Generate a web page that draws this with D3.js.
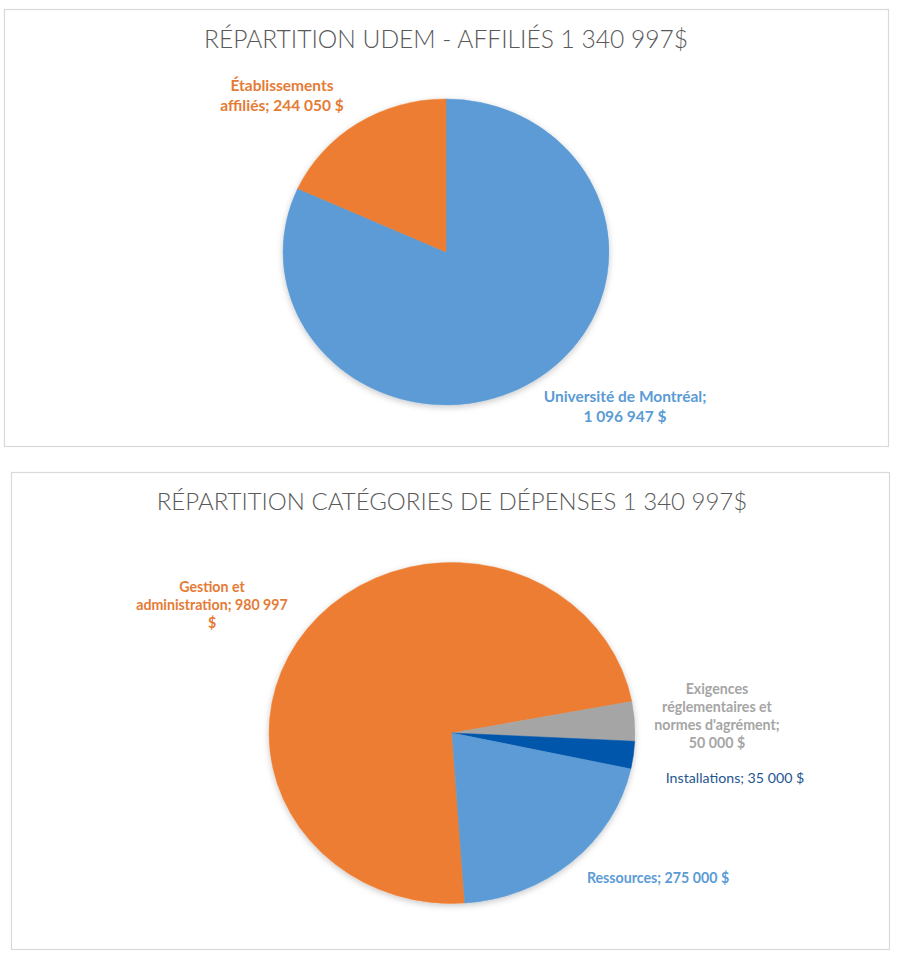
<!DOCTYPE html>
<html>
<head>
<meta charset="utf-8">
<script src="https://cdn.jsdelivr.net/npm/d3@7"></script>
<style>
	body { margin: 0; background: #fff; }
</style>
</head>
<body>
<script>
// * DATA
const udemCategories = ["Université de Montréal", "Établissements affiliés"];
const udemValues = [1096947, 244050];
const udemColors = ["#5B9BD5", "#ED7D31"];
const udemLabels = [
	["Université de Montréal;", "1 096 947 $"],
	["Établissements", "affiliés; 244 050 $"],
];

const depCategories = [
	"Gestion et administration",
	"Exigences réglementaires et normes d'agrément",
	"Installations",
	"Ressources",
];
const depValues = [980997, 50000, 35000, 275000];
const depColors = ["#ED7D31", "#A5A5A5", "#0457AB", "#5B9BD5"];
const depLabelColors = ["#E57B35", "#A5A5A5", "#1F5690", "#5B9BD5"];
const depLabels = [
	["Gestion et", "administration; 980 997", "$"],
	["Exigences", "réglementaires et", "normes d'agrément;", "50 000 $"],
	["Installations; 35 000 $"],
	["Ressources; 275 000 $"],
];

// * Size
const width = 901;
const height = 960;

const svg = d3
	.select("body")
	.append("svg")
	.attr("width", width)
	.attr("height", height);

// soft shadow under the pies
const defs = svg.append("defs");
defs.append("filter")
	.attr("id", "shadow")
	.attr("x", "-20%")
	.attr("y", "-20%")
	.attr("width", "140%")
	.attr("height", "140%")
	.append("feDropShadow")
	.attr("dx", 0)
	.attr("dy", 2)
	.attr("stdDeviation", 3)
	.attr("flood-color", "#000")
	.attr("flood-opacity", 0.22);

// * one chart panel
function drawPanel(cfg) {
	const g = svg.append("g");

	g.append("rect")
		.attr("x", cfg.box[0] + 0.5)
		.attr("y", cfg.box[1] + 0.5)
		.attr("width", cfg.box[2])
		.attr("height", cfg.box[3])
		.attr("fill", "#fff")
		.attr("stroke", "#D9D9D9")
		.attr("stroke-width", 1.2);

	g.append("text")
		.attr("x", cfg.titleX)
		.attr("y", cfg.titleY)
		.attr("text-anchor", "middle")
		.attr("font-family", "Lato, 'Open Sans', sans-serif")
		.attr("font-weight", 300)
		.attr("font-size", cfg.titleSize)
		.attr("fill", "#595959")
		.text(cfg.title);

	const rot = (cfg.rotation * Math.PI) / 180;
	const pie = d3
		.pie()
		.sort(null)
		.value((d) => d)
		.startAngle(rot)
		.endAngle(rot + 2 * Math.PI);
	const arc = d3.arc().innerRadius(0).outerRadius(cfg.r);

	const pieG = g
		.append("g")
		.attr("transform", `translate(${cfg.cx},${cfg.cy}) scale(${cfg.sx},1)`)
		.attr("filter", "url(#shadow)");

	pieG.selectAll("path")
		.data(pie(cfg.values))
		.join("path")
		.attr("d", arc)
		.attr("fill", (d, i) => cfg.colors[i])
		.attr("stroke", (d, i) => cfg.colors[i])
		.attr("stroke-width", 0.5)
		.attr("data-name", (d, i) => cfg.categories[i]);

	// data labels
	const labels = g
		.selectAll("text.label")
		.data(cfg.labels)
		.join("text")
		.attr("class", "label")
		.attr("text-anchor", "middle")
		.attr("font-family", "Lato, 'Open Sans', sans-serif")
		.attr("font-weight", (d, i) => cfg.labelWeight[i])
		.attr("font-size", cfg.labelSize)
		.attr("fill", (d, i) => cfg.labelColors[i]);

	labels.each(function (lines, i) {
		const [dx, dy] = cfg.labelPos[i];
		d3.select(this)
			.selectAll("tspan")
			.data(lines)
			.join("tspan")
			.attr("x", cfg.cx + dx)
			.attr("y", (d, j) => cfg.cy + dy + j * cfg.lineHeight)
			.text((d) => d);
	});
}

drawPanel({
	box: [4, 9, 884, 437],
	title: "RÉPARTITION UDEM - AFFILIÉS 1 340 997$",
	titleX: 446,
	titleY: 48,
	titleSize: 24.6,
	cx: 446,
	cy: 252,
	r: 153,
	sx: 1.065,
	rotation: 0,
	categories: udemCategories,
	values: udemValues,
	colors: udemColors,
	labels: udemLabels,
	labelColors: ["#5B9BD5", "#E57B35"],
	labelWeight: [700, 700],
	labelSize: 15.5,
	lineHeight: 19.5,
	labelPos: [
		[179, 150],
		[-164, -161],
	],
});

drawPanel({
	box: [11, 472, 878, 477],
	title: "RÉPARTITION CATÉGORIES DE DÉPENSES 1 340 997$",
	titleX: 452,
	titleY: 510,
	titleSize: 24,
	cx: 452,
	cy: 733,
	r: 170.5,
	sx: 1.073,
	rotation: 176,
	categories: depCategories,
	values: depValues,
	colors: depColors,
	labels: depLabels,
	labelColors: depLabelColors,
	labelWeight: [700, 700, 400, 700],
	labelSize: 14.2,
	lineHeight: 18,
	labelPos: [
		[-240, -141],
		[265, -39],
		[283, 50],
		[206, 150],
	],
});
</script>
</body>
</html>
